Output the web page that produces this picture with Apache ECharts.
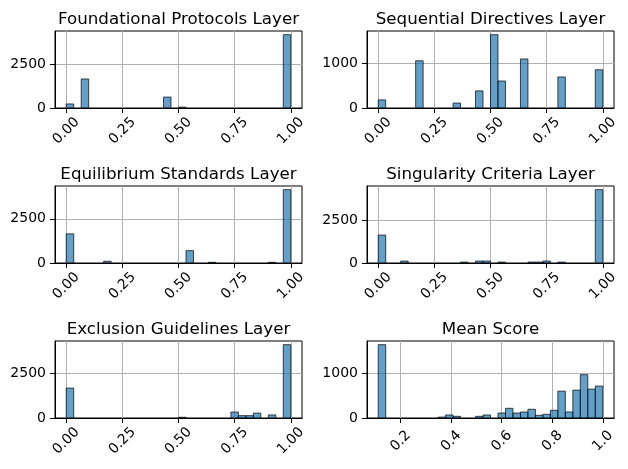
<!DOCTYPE html>
<html>
<head>
    <meta charset="utf-8">
    <title>ECharts</title>
    <script src="https://cdn.jsdelivr.net/npm/echarts@6.0.0/dist/echarts.min.js"></script>
    <style>
        html, body { margin: 0; padding: 0; background: #fff; }
    </style>
</head>
<body>
<div id="main" style="width: 628px;height:469px;"></div>
<script type="text/javascript">
    // histogram counts, 30 bins each
    var foundationalCounts = [230,0,1650,0,0,0,0,0,0,0,0,0,0,620,0,50,0,0,0,0,0,0,0,0,0,0,0,0,0,4165];
    var sequentialCounts   = [180,0,0,0,0,1050,0,0,0,0,110,0,0,380,0,1630,600,0,0,1090,0,0,0,0,690,0,0,0,0,850];
    var equilibriumCounts  = [1650,0,0,0,0,100,0,0,0,0,0,0,0,0,0,0,700,0,0,40,0,0,0,0,0,0,0,40,0,4150];
    var singularityCounts  = [1650,0,0,115,0,0,0,0,0,0,0,55,0,115,115,0,55,0,0,0,55,55,115,0,55,0,0,0,0,4330];
    var exclusionCounts    = [1660,0,0,0,0,0,0,0,0,0,0,0,0,0,0,40,0,0,0,0,0,0,330,130,130,270,0,170,0,4070];
    var meanCounts         = [1630,0,0,0,0,0,0,0,20,67,37,0,0,37,67,0,111,215,111,133,194,60,82,172,597,134,619,963,642,709];

    var titles = ['Foundational Protocols Layer', 'Sequential Directives Layer', 'Equilibrium Standards Layer',
                  'Singularity Criteria Layer', 'Exclusion Guidelines Layer', 'Mean Score'];
    var allCounts = [foundationalCounts, sequentialCounts, equilibriumCounts, singularityCounts, exclusionCounts, meanCounts];

    // data range of each histogram
    var dataMin = [0, 0, 0, 0, 0, 0.111];
    var dataMax = [1, 1, 1, 1, 1, 1];

    // tick labels
    var layerTicks = [0, 0.25, 0.5, 0.75, 1];
    var meanTicks = [0.2, 0.4, 0.6, 0.8, 1.0];
    var yTicksBig = [0, 2500];
    var yTicksSmall = [0, 1000];

    var myChart = echarts.init(document.getElementById('main'));

    var lefts = [55, 367];
    var tops = [31, 186, 341];
    var gw = 247, gh = 77;
    var font = 'DejaVu Sans';

    var grid = [], xAxis = [], yAxis = [], series = [], title = [];

    for (var i = 0; i < 6; i++) {
        var col = i % 2, row = Math.floor(i / 2);
        var counts = allCounts[i];
        var lo = dataMin[i], hi = dataMax[i];
        var span = hi - lo;
        var bw = span / counts.length;
        var bins = [];
        for (var k = 0; k < counts.length; k++) {
            if (counts[k] > 0) bins.push([lo + k * bw, lo + (k + 1) * bw, counts[k]]);
        }
        var xt = i == 5 ? meanTicks : layerTicks;
        var yt = (i == 1 || i == 5) ? yTicksSmall : yTicksBig;
        var dec = i == 5 ? 1 : 2;

        grid.push({
            left: lefts[col], top: tops[row], width: gw, height: gh,
            show: true, borderColor: '#000', borderWidth: 1, backgroundColor: 'transparent'
        });
        title.push({
            text: titles[i],
            left: lefts[col] + gw / 2,
            top: tops[row] - 20,
            textAlign: 'center',
            padding: 0,
            textStyle: { fontFamily: font, fontSize: 16.7, fontWeight: 'normal', color: '#000' }
        });
        xAxis.push({
            gridIndex: i, type: 'value',
            min: lo - span * 0.05, max: hi + span * 0.05,
            axisLine: { onZero: false, lineStyle: { color: '#000', width: 1 } },
            axisTick: { show: true, length: 5, customValues: xt, lineStyle: { color: '#000' } },
            axisLabel: {
                customValues: xt, rotate: 45, align: 'center', verticalAlign: 'middle', margin: 23,
                fontFamily: font, fontSize: 14, color: '#000',
                formatter: (function (d) { return function (v) { return v.toFixed(d); }; })(dec)
            },
            splitLine: { show: true, lineStyle: { color: '#b0b0b0', width: 1 } }
        });
        yAxis.push({
            gridIndex: i, type: 'value',
            min: 0, max: Math.max.apply(null, counts) * 1.05,
            axisLine: { show: true, onZero: false, lineStyle: { color: '#000', width: 1 } },
            axisTick: { show: true, length: 5, customValues: yt, lineStyle: { color: '#000' } },
            axisLabel: {
                customValues: yt, margin: 9, fontFamily: font, fontSize: 14, color: '#000',
                formatter: function (v) { return String(v); }
            },
            splitLine: { show: true, lineStyle: { color: '#b0b0b0', width: 1 } }
        });
        series.push({
            type: 'custom',
            xAxisIndex: i, yAxisIndex: i,
            data: bins,
            z: 3,
            renderItem: function (params, api) {
                var p0 = api.coord([api.value(0), api.value(2)]);
                var p1 = api.coord([api.value(1), 0]);
                return {
                    type: 'rect',
                    shape: { x: p0[0], y: p0[1], width: p1[0] - p0[0], height: p1[1] - p0[1] },
                    style: { fill: 'rgba(31,119,180,0.7)', stroke: 'rgba(0,0,0,0.7)', lineWidth: 1 }
                };
            }
        });
    }

    var option = {
        animation: false,
        title: title,
        grid: grid,
        xAxis: xAxis,
        yAxis: yAxis,
        series: series
    };
    myChart.setOption(option);
</script>
</body>
</html>
